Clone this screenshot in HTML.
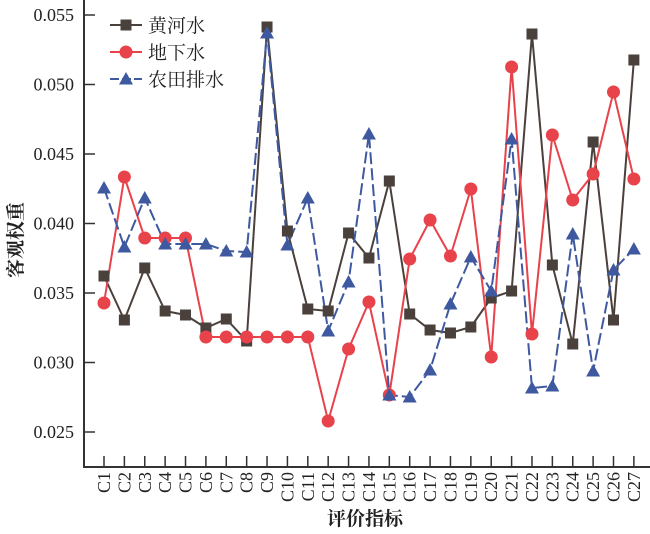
<!DOCTYPE html>
<html><head><meta charset="utf-8"><style>body{margin:0;background:#fff}</style></head><body>
<svg id="s" width="650" height="529" xmlns="http://www.w3.org/2000/svg" font-family="Liberation Serif, Noto Serif CJK SC, serif">
<rect width="650" height="529" fill="#fff"/>
<g id="g"></g>
</svg>
<script>
const Y=[276,320,268,311,315,328,319,341,27,231,309,311,233,258,181,314,330,333,327,298,291,34,265,344,142,320,60];
const R=[303,177,238,238,238,337,337,337,337,337,337,421,349,302,395,259,220,256,189,357,67,334,135,200,174,92,179];
const B=[188,247,198,244,244,244,251,252,33,245,198,331,282,134,395,397,370,304,257,291,139,388,386,234,371,270,249];
const X=i=>104+i*20.38;
let h='';
h+='<path d="M84 0V467H650" fill="none" stroke="#333" stroke-width="2"/>';
const yt=['0.055','0.050','0.045','0.040','0.035','0.030','0.025'];
yt.forEach((t,k)=>{const y=15+k*69.5;h+=`<line x1="84" x2="95" y1="${y}" y2="${y}" stroke="#333" stroke-width="1.5"/><text x="74" y="${y+6}" text-anchor="end" font-size="18" fill="#222">${t}</text>`;});
for(let i=0;i<27;i++){const x=X(i);h+=`<line x1="${x}" x2="${x}" y1="456" y2="467" stroke="#333" stroke-width="1.5"/><text transform="translate(${x+6},472) rotate(-90)" text-anchor="end" font-size="18" fill="#222">C${i+1}</text>`;}
const pl=(a,c,d)=>`<polyline points="${a.map((y,i)=>X(i)+','+y).join(' ')}" fill="none" stroke="${c}" stroke-width="2" ${d?'stroke-dasharray="12,4"':''}/>`;
h+=pl(Y,'#4a403c')+pl(R,'#e8424b')+pl(B,'#3f59a0',1);
const sq=(x,y)=>`<rect x="${x-5.5}" y="${y-5.5}" width="11" height="11" fill="#4a403c"/>`;
const ci=(x,y)=>`<circle cx="${x}" cy="${y}" r="6.5" fill="#e8424b"/>`;
const tr=(x,y)=>`<polygon points="${x},${y-7} ${x-7},${y+5.5} ${x+7},${y+5.5}" fill="#3f59a0"/>`;
Y.forEach((y,i)=>h+=sq(X(i),y));R.forEach((y,i)=>h+=ci(X(i),y));B.forEach((y,i)=>h+=tr(X(i),y));
h+=`<line x1="110" x2="142" y1="25" y2="25" stroke="#4a403c" stroke-width="2"/>`+sq(126,25);
h+=`<line x1="110" x2="142" y1="52" y2="52" stroke="#e8424b" stroke-width="2"/>`+ci(126,52);
h+=`<line x1="110" x2="142" y1="79" y2="79" stroke="#3f59a0" stroke-width="2" stroke-dasharray="9,3"/>`+tr(126,79);
[['黄河水',25],['地下水',52],['农田排水',79]].forEach(([t,y])=>h+=`<text x="148" y="${y+7}" font-size="19" fill="#222">${t}</text>`);
h+=`<text transform="translate(22,240) rotate(-90)" text-anchor="middle" font-size="19" font-weight="bold" fill="#222">客观权重</text>`;
h+=`<text x="365" y="525" text-anchor="middle" font-size="19" font-weight="bold" fill="#222">评价指标</text>`;
document.getElementById('g').innerHTML=h;
</script>
</body></html>
